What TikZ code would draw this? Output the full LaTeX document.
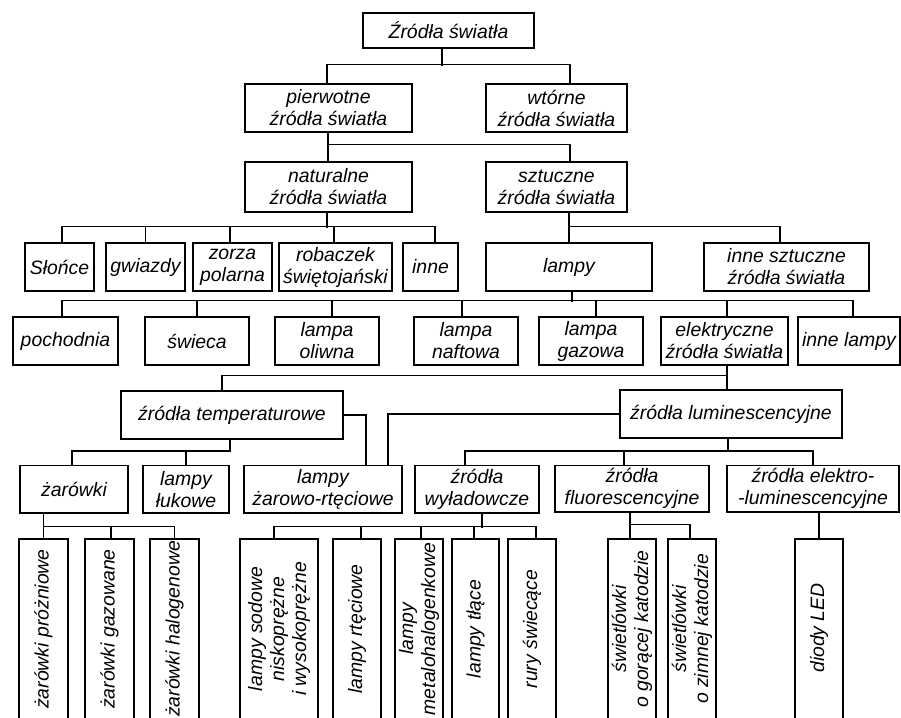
\documentclass[tikz,border=0pt]{standalone}
\usepackage{fontspec}
\setmainfont{Liberation Sans}
\begin{document}
\begin{tikzpicture}[x=1pt,y=-1pt,line width=1.2pt,
  box/.style={draw,inner sep=0pt,align=center,font=\itshape\fontsize{19.4}{22}\selectfont},
  area/.style n args={4}{at={({(#1+#3)/2},{(#2+#4)/2})},minimum width={(#3-#1)*1pt},minimum height={(#4-#2)*1pt}},
  vtxt/.style={rotate=90,inner sep=0pt,align=center,font=\itshape\fontsize{19.4}{22}\selectfont}]
\useasboundingbox (0,0) rectangle (901,717);
\clip (0,0) rectangle (901,717);
% level 0-2
\node[box,area={363}{13}{534}{48}] (top) {Źródła światła};
\node[box,area={245}{84}{412}{132}] (pier) {pierwotne\\źródła światła};
\node[box,area={486}{84}{627}{132}] (wt) {wtórne\\źródła światła};
\node[box,area={245}{162}{412}{212}] (nat) {naturalne\\źródła światła};
\node[box,area={486}{162}{627}{212}] (szt) {sztuczne\\źródła światła};
% level 3
\node[box,area={25}{243}{94}{291}] (slo) {Słońce};
\node[box,area={106}{243}{185}{291}] (gwi) {gwiazdy};
\node[box,area={193}{243}{272}{291}] (zor) {zorza\\polarna};
\node[box,area={279}{243}{392}{291}] (rob) {robaczek\\świętojański};
\node[box,area={403}{243}{458}{291}] (inn) {inne};
\node[box,area={486}{243}{652}{291}] (lam) {lampy};
\node[box,area={704}{243}{869}{291}] (ins) {inne sztuczne\\źródła światła};
% level 4
\node[box,area={13}{317}{118}{365}] (poc) {pochodnia};
\node[box,area={145}{317}{249}{365}] (swi) {świeca};
\node[box,area={275}{317}{379}{365}] (oli) {lampa\\oliwna};
\node[box,area={414}{317}{518}{365}] (naf) {lampa\\naftowa};
\node[box,area={539}{317}{643}{365}] (gaz) {lampa\\gazowa};
\node[box,area={661}{317}{788}{365}] (ele) {elektryczne\\źródła światła};
\node[box,area={798}{317}{900}{365}] (inl) {inne lampy};
% level 5
\node[box,area={121}{391}{343}{439}] (tem) {źródła temperaturowe};
\node[box,area={620}{390}{842}{438}] (lum) {źródła luminescencyjne};
% level 6
\node[box,area={20}{465.5}{128}{513}] (zar) {żarówki};
\node[box,area={143}{465.5}{229}{513}] (luk) {lampy\\łukowe};
\node[box,area={244}{465.5}{402}{513}] (zrt) {lampy\\żarowo-rtęciowe};
\node[box,area={415}{465.5}{539}{513}] (wyl) {źródła\\wyładowcze};
\node[box,area={555}{465.5}{709}{512}] (flu) {źródła\\fluorescencyjne};
\node[box,area={727}{465.5}{899}{512}] (elu) {źródła elektro-\\-luminescencyjne};
% level 7 (open at the bottom edge)
\node[box,area={19}{539}{68}{730}] (b1) {};
\node[box,area={85}{539}{134}{730}] (b2) {};
\node[box,area={150}{539}{199}{730}] (b3) {};
\node[box,area={240}{539}{318}{730}] (sod) {};
\node[box,area={333}{539}{381}{730}] (rte) {};
\node[box,area={395}{539}{443}{730}] (met) {};
\node[box,area={452}{539}{499}{730}] (tla) {};
\node[box,area={508}{539}{556}{730}] (rur) {};
\node[box,area={608}{539}{656}{730}] (gor) {};
\node[box,area={668}{539}{716}{730}] (zim) {};
\node[box,area={795}{539}{843}{730}] (led) {};
\node[vtxt] (tb1) at (43.5,629) {żarówki próżniowe};
\node[vtxt] (tb2) at (109.5,629) {żarówki gazowane};
\node[vtxt] (tb3) at (174.5,629) {żarówki halogenowe};
\node[vtxt] (tsod) at (279,629) {lampy sodowe\\niskoprężne\\i wysokoprężne};
\node[vtxt] (trte) at (357,629) {lampy rtęciowe};
\node[vtxt] (tmet) at (419,629) {lampy\\metalohalogenkowe};
\node[vtxt] (ttla) at (475.5,629) {lampy tłące};
\node[vtxt] (trur) at (532,629) {rury świecące};
\node[vtxt] (tgor) at (632,629) {świetlówki\\o gorącej katodzie};
\node[vtxt] (tzim) at (692,629) {świetlówki\\o zimnej katodzie};
\node[vtxt] (tled) at (819,628) {diody LED};
% connectors
\draw ([xshift=-6.5pt]top.south) -- ++(0,17);
\draw ([xshift=-1.5pt]pier.north) -- ++(0,-19) -| ([xshift=13.5pt]wt.north);
\draw ([xshift=-0.5pt]pier.south) -- ++(0,13);
\draw ([xshift=-0.5pt]nat.north) -- ++(0,-17) -| ([xshift=13.5pt]szt.north);
\draw ([xshift=-1.5pt]nat.south) -- ++(0,15);
\draw ([xshift=2.5pt]slo.north) -- ++(0,-16) -| ([xshift=4.5pt]inn.north);
\draw (gwi.north) -- ++(0,-16);
\draw ([xshift=-2.5pt]zor.north) -- ++(0,-16);
\draw ([xshift=-1.5pt]rob.north) -- ++(0,-16);
\draw ([xshift=12.5pt]szt.south) -- (lam.north);
\draw (lam.north) -- ++(0,-16) -| ([xshift=-6.5pt]ins.north);
\draw ([xshift=3pt]lam.south) -- ++(0,10);
\draw ([xshift=-3.5pt]poc.north) -- ++(0,-16) -| ([xshift=4pt]inl.north);
\draw (swi.north) -- ++(0,-16);
\draw ([xshift=5pt]oli.north) -- ++(0,-16);
\draw ([xshift=-4pt]naf.north) -- ++(0,-16);
\draw ([xshift=5pt]gaz.north) -- ++(0,-16);
\draw ([xshift=2.5pt]ele.north) -- ++(0,-16);
\draw ([xshift=2.5pt]ele.south) -- ([xshift=-4pt]lum.north);
\draw ([xshift=-10pt]tem.north) -- ++(0,-15) -| ([xshift=2.5pt]ele.south);
\draw ([xshift=-2pt]zar.north) -- ++(0,-14) -| ([xshift=-2pt]tem.south);
\draw (luk.north) -- ++(0,-14);
\draw (tem.east) -| ([xshift=43pt]zrt.north);
\draw (lum.west) -| ([xshift=65pt]zrt.north);
\draw ([xshift=-12pt]wyl.north) -- ++(0,-14) -| (elu.north);
\draw ([xshift=-3pt]lum.south) -- ++(0,13);
\draw ([xshift=-8pt]flu.north) -- ++(0,-14);
\draw ([xshift=-30.5pt]zar.south) -- (b1.north);
\draw (b1.north) -- ++(0,-12) -| (b3.north);
\draw ([xshift=1.5pt]b2.north) -- ++(0,-12);
\draw ([xshift=5pt]wyl.south) -- ++(0,14);
\draw ([xshift=-5pt]sod.north) -- ++(0,-12) -| ([xshift=4pt]rur.north);
\draw ([xshift=4pt]rte.north) -- ++(0,-12);
\draw ([xshift=2pt]met.north) -- ++(0,-12);
\draw ([xshift=-1.5pt]tla.north) -- ++(0,-12);
\draw ([xshift=-2pt]flu.south) -- ([xshift=-2pt]gor.north);
\draw ([xshift=-2pt]gor.north) -- ++(0,-14) -| ([xshift=-2pt]zim.north);
\draw ([xshift=6pt]elu.south) -- (led.north);
\end{tikzpicture}
\end{document}
